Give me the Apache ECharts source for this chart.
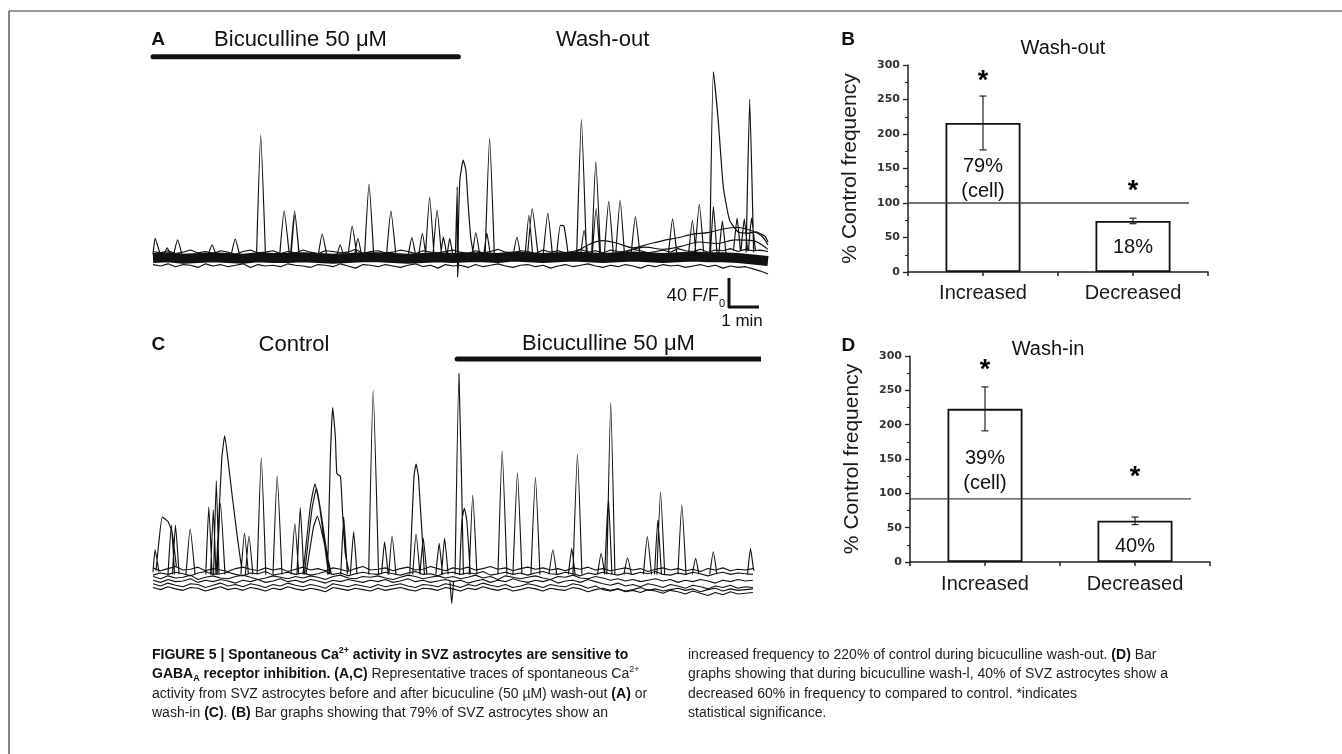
<!DOCTYPE html>
<html><head><meta charset="utf-8">
<script src="https://cdn.jsdelivr.net/npm/echarts@6/dist/echarts.min.js"></script>
<style>html,body{margin:0;padding:0;background:#fff}#c{width:1342px;height:754px}</style>
</head><body><div id="c"></div>
<script>
// ================= DATA =================
// Panel A (bicuculline wash-out): time in min, amplitude in F/F0
const aBandMid = [0,1,-1,0,1,0,-1,1,0,0, 1,0,-1,0,1,1,0,-1,0,1, 0,1,1,0,2,1,0,1,2,1, 0,1,2,1,0,1,2,1,1,0, -2,-4];
const aBandTop = [9,7,10,6,8,11,7,9,6,10, 8,5,9,11,7,8,10,6,9,7, 11,8,6,10,9,7,8,12,6,9, 10,7,8,11,9,6,10,8,7,9,
  11,8,6,10,7,9,12,8,7,10, 9,6,11,8,10,7,9,12,8,10, 7,11,9,8,12,10,7,9,11,8, 13,10,9,12,8,11,10,13,9,12, 10,11,9];
const aBandBot = [-9,-11,-8,-12,-9,-10,-13,-8,-11,-9, -12,-10,-8,-13,-9,-11,-10,-12,-8,-10, -11,-13,-9,-10,-12,-8,-11,-14,-9,-10,
  -12,-9,-11,-13,-10,-8,-12,-10,-14,-9, -11,-10,-13,-9,-12,-10,-8,-11,-13,-10, -9,-12,-10,-14,-11,-9,-12,-10,-8,-11,
  -13,-10,-12,-9,-11,-14,-10,-12,-9,-11, -10,-13,-11,-9,-12,-10,-14,-11,-13,-12, -15,-18,-22];
const spikesA = [
 [[0,5],[0.07,27],[0.25,3]], [[0.35,2],[0.47,14],[0.6,3]], [[0.68,3],[0.82,25],[0.98,2]],
 [[1.82,2],[1.97,18],[2.12,2]], [[2.6,3],[2.74,26],[2.9,2]], [[3.45,2],[3.59,170],[3.75,2]],
 [[4.22,2],[4.37,65],[4.55,2]], [[4.58,2],[4.72,65],[4.88,2]], [[4.6,3],[4.73,60],[4.87,4]],
 [[5.5,2],[5.64,33],[5.8,2]], [[6.12,2],[6.24,18],[6.36,2]], [[6.5,2],[6.64,44],[6.8,2]],
 [[6.72,3],[6.83,27],[6.96,2]], [[7.05,2],[7.2,102],[7.36,2]], [[7.78,2],[7.93,65],[8.1,2]],
 [[8.5,2],[8.63,28],[8.76,2]], [[8.85,2],[8.98,34],[9.1,2]], [[9.08,2],[9.22,84],[9.37,2]],
 [[9.33,2],[9.47,66],[9.62,2]], [[9.58,2],[9.68,29],[9.8,2]], [[9.8,2],[9.89,27],[10.0,2]],
 [[10.08,2],[10.14,98],[10.15,-26],[10.2,2]],
 [[10.17,5],[10.18,43],[10.23,108],[10.34,135],[10.43,121],[10.51,71],[10.59,29],[10.68,5]],
 [[10.64,2],[10.76,35],[10.9,2]], [[11.02,2],[11.13,34],[11.25,2]], [[11.07,2],[11.22,165],[11.38,2]],
 [[12.0,2],[12.13,29],[12.26,2]], [[12.4,2],[12.53,59],[12.66,2]], [[12.48,2],[12.64,68],[12.84,2]],
 [[13.0,2],[13.16,62],[13.32,2]], [[13.45,2],[13.58,45],[13.7,44],[13.85,2]],
 [[14.12,2],[14.28,191],[14.45,2]], [[14.25,2],[14.37,38],[14.5,2]], [[14.62,2],[14.76,133],[14.92,2]],
 [[14.64,3],[14.77,68],[14.9,3]], [[15.04,2],[15.19,78],[15.35,2]], [[15.42,2],[15.57,80],[15.72,2]],
 [[15.93,2],[16.08,57],[16.24,2]], [[17.18,5],[17.32,54],[17.46,5]], [[17.85,5],[17.98,52],[18.1,5]],
 [[18.06,5],[18.21,74],[18.36,5]],
 [[18.56,5],[18.68,257],[18.84,190],[19.01,98],[19.22,52],[19.5,36],[19.8,34],[20.1,36],[20.4,30],[20.5,22]],
 [[18.58,5],[18.68,71],[18.8,5]], [[18.86,5],[18.98,51],[19.1,5]], [[19.35,10],[19.47,55],[19.58,10]],
 [[19.6,10],[19.71,54],[19.82,10]], [[19.77,8],[19.89,219],[20.02,8]], [[19.85,10],[19.95,55],[20.08,10]]
];
const slowA1 = [[13.9,2],[14.5,18],[15,24],[15.5,20],[16,14],[16.5,19],[17,24],[17.5,28],[18,33],[18.5,35],[19,40],[19.5,42],[20,37],[20.3,30],[20.5,18]];
const slowA2 = [[15.2,3],[15.8,10],[16.4,15],[17,12],[17.6,16],[18.2,22],[18.8,20],[19.4,25],[20,24],[20.5,12]];
const drugA = [0, 10.18];          // bicuculline application (min)

// Panel C (bicuculline wash-in)
const cBase1 = [14,10,13,16,11,12,15,10,13,11, 9,13,15,12,10,14,11,13,9,12, 15,11,13,10,14,12,9,13,16,11, 12,14,10,13,15,11,12,16,13,10,
  14,12,15,11,13,16,12,14,10,13, 15,12,14,11,13,10,14,12,15,11, 13,10,12,14,11,13,9,12,14,11, 13,10,12,9,13,11,14,10,12,11, 13];
const cBase2 = [4,7,5,8,6,3,7,9,5,6, 8,5,3,7,6,9,4,6,8,5, 7,4,6,9,5,7,3,6,8,6, 5,8,6,4,7,9,5,6,3,7,
  8,5,7,6,9,4,6,8,5,7, 4,7,9,6,5,8,6,3,7,5, 8,6,4,7,5,8,6,9,5,4, 7,5,8,6,3,6,8,5,7,6, 5];
const cBase3 = [2,-1,3,0,1,4,-2,1,3,0, -1,2,4,1,-2,0,3,1,-1,2, 0,3,1,-2,2,4,0,-1,2,1, 3,0,-2,1,4,2,-1,1,3,0,
  2,-1,1,4,0,2,-2,3,1,-1, 1,3,0,-2,2,1,4,0,-1,2, 0,-3,-1,-4,-2,-5,-3,-1,-4,-2, -6,-3,-5,-2,-4,-7,-3,-5,-2,-4, -3];
const cBase4 = [-3,-6,-2,-5,-4,-1,-6,-3,-5,-2, -4,-7,-3,-5,-2,-6,-4,-1,-5,-3, -6,-2,-4,-7,-3,-5,-2,-4,-6,-3, -5,-2,-6,-4,-1,-5,-3,-6,-4,-2,
  -5,-3,-7,-4,-2,-6,-3,-5,-1,-4, -6,-3,-5,-2,-7,-4,-3,-6,-2,-5, -8,-10,-7,-11,-9,-12,-8,-10,-13,-9, -11,-14,-10,-12,-15,-11,-13,-10,-14,-12, -13];
const cBase5 = [-8,-11,-7,-10,-12,-8,-9,-13,-10,-7, -11,-9,-12,-8,-10,-13,-9,-11,-7,-10, -12,-9,-11,-14,-8,-10,-12,-9,-11,-13, -9,-12,-10,-8,-11,-13,-9,-10,-12,-8,
  -10,-13,-9,-11,-7,-10,-12,-9,-13,-11, -8,-10,-13,-9,-11,-12,-8,-10,-14,-11, -16,-18,-15,-19,-17,-20,-16,-18,-21,-17, -19,-22,-18,-21,-24,-20,-23,-19,-22,-21, -20];
const cBase6 = [-13,-16,-12,-15,-17,-13,-14,-18,-15,-12, -16,-14,-17,-13,-15,-18,-14,-16,-12,-15, -17,-14,-16,-19,-13,-15,-17,-14,-16,-18, -14,-17,-15,-13,-16,-18,-14,-15,-17,-13,
  -15,-18,-14,-16,-12,-15,-17,-14,-18,-16, -13,-15,-18,-14,-16,-17,-13,-15,-19,-16, -14,-17,-15,-18,-16,-13,-17,-15,-18,-16, -14,-17,-15,-19,-16,-14,-18,-15,-17,-16, -15];
const spikesC = [
 [[0,8],[0.07,39],[0.2,8]], [[0.1,10],[0.16,35],[0.31,84],[0.5,78],[0.64,62],[0.78,16]],
 [[0.5,5],[0.61,73],[0.72,5]], [[0.65,5],[0.75,73],[0.87,5]], [[1.1,5],[1.24,68],[1.4,5]],
 [[1.76,5],[1.86,98],[1.97,5]], [[1.92,5],[2.01,94],[2.1,5]], [[2.02,5],[2.11,134],[2.2,5]],
 [[2.14,5],[2.25,103],[2.4,5]], [[2.11,8],[2.29,163],[2.39,196],[2.5,163],[2.63,117],[2.81,57],[2.95,15]],
 [[2.93,5],[3.05,62],[3.18,5]], [[3.08,5],[3.2,58],[3.33,5]], [[3.47,5],[3.61,166],[3.76,5]],
 [[4.0,5],[4.14,141],[4.3,5]], [[4.6,5],[4.73,75],[4.86,5]], [[4.8,5],[4.91,97],[5.03,5]],
 [[5.0,5],[5.25,100],[5.4,130],[5.55,100],[5.85,5]], [[5.05,5],[5.3,95],[5.45,124],[5.6,90],[5.9,5]],
 [[5.1,5],[5.35,70],[5.48,85],[5.7,50],[5.95,5]],
 [[5.82,5],[5.91,163],[5.99,235],[6.08,195],[6.13,144],[6.25,140],[6.32,89],[6.41,34],[6.53,10]],
 [[6.26,5],[6.36,84],[6.48,5]], [[6.58,5],[6.69,64],[6.8,5]], [[7.19,5],[7.34,259],[7.52,5]],
 [[7.62,5],[7.72,50],[7.84,5]], [[7.86,5],[7.97,58],[8.1,5]], [[8.56,5],[8.7,140],[8.77,157],[8.85,140],[9.05,5]],
 [[8.66,5],[8.77,61],[8.9,5]], [[8.9,5],[9.01,55],[9.13,5]], [[9.43,5],[9.54,48],[9.65,5]],
 [[9.62,5],[9.72,55],[9.84,5]], [[9.9,-5],[9.96,-35],[10.02,-5]], [[10.07,5],[10.2,282],[10.35,5]],
 [[10.22,5],[10.3,80],[10.38,96],[10.46,80],[10.58,5]], [[10.54,5],[10.66,114],[10.8,5]],
 [[11.5,5],[11.64,175],[11.8,5]], [[12.0,5],[12.15,145],[12.3,5]], [[12.6,5],[12.75,139],[12.9,5]],
 [[13.2,5],[13.33,39],[13.46,5]], [[13.85,5],[13.96,41],[14.07,5]], [[14.0,5],[14.15,171],[14.3,5]],
 [[14.82,5],[14.94,34],[15.06,5]], [[15.06,5],[15.18,112],[15.3,5]], [[15.13,5],[15.26,242],[15.4,5]],
 [[15.7,5],[15.82,28],[15.95,5]], [[16.35,5],[16.48,57],[16.62,5]], [[16.72,5],[16.83,80],[16.95,5]],
 [[16.8,5],[16.92,119],[17.06,5]], [[17.5,5],[17.63,101],[17.77,5]], [[17.98,5],[18.09,27],[18.2,5]],
 [[18.56,5],[18.68,36],[18.8,5]], [[19.82,5],[19.92,41],[20.02,12],[20.05,10]]
];
const drugC = [10.14, 20.27];
const scaleAmp = 40, scaleDur = 1;   // 40 F/F0, 1 min

// Panels B / D
const categories = ['Increased', 'Decreased'];
const washOutMean = [216, 74];
const washOutErr  = [39, 4];
const washOutRef  = 100;
const washOutPct  = ['79%\n(cell)', '18%'];
const washInMean  = [223, 60];
const washInErr   = [32, 5.5];
const washInRef   = 92;
const washInPct   = ['39%\n(cell)', '40%'];
const yTicks = [0, 300, 50];   // min, max, step

// ================= LAYOUT / STYLE =================
const FONT = 'Liberation Sans';
const INK = '#111';
const pctAtB = [135.5, 35], pctAtD = [133, 23];
const starAtB = [285, 126], starAtD = [288, 132];

function lineData(arr, step) { return arr.map((v, i) => [+(i * step).toFixed(3), v]); }
function spikeData(list) {
  const out = [];
  list.forEach((s, k) => { if (k) out.push(['-', '-']); s.forEach(p => out.push(p)); });
  return out;
}
function trace(ix, data, w, extra) {
  return Object.assign({ type: 'line', xAxisIndex: ix, yAxisIndex: ix, data: data, symbol: 'none',
    silent: true, animation: false, lineStyle: { color: INK, width: w, join: 'round' } }, extra || {});
}
function errRender(params, api) {
  const x = api.value(0), lo = api.value(1), hi = api.value(2);
  const a = api.coord([x, hi]), b = api.coord([x, lo]);
  const cap = 3.5, st = { stroke: '#222', lineWidth: 1.2 };
  return { type: 'group', children: [
    { type: 'line', shape: { x1: a[0], y1: a[1], x2: b[0], y2: b[1] }, style: st },
    { type: 'line', shape: { x1: a[0] - cap, y1: a[1], x2: a[0] + cap, y2: a[1] }, style: st },
    { type: 'line', shape: { x1: b[0] - cap, y1: b[1], x2: b[0] + cap, y2: b[1] }, style: st }
  ] };
}
const hiddenSym = { color: 'rgba(0,0,0,0)', opacity: 1 };
function barSeries(ix, mean, err, ref, pct, pctAt, starAt) {
  return [
    { type: 'bar', xAxisIndex: ix, yAxisIndex: ix, barWidth: 75, silent: true, z: 2,
      data: mean.map((m, i) => [i + 0.5, m]),
      itemStyle: { color: '#fff', borderColor: INK, borderWidth: 1.8 } },
    { type: 'custom', xAxisIndex: ix, yAxisIndex: ix, renderItem: errRender, silent: true, z: 3,
      encode: { x: 0, y: [1, 2] },
      data: mean.map((m, i) => [i + 0.5, m - err[i], m + err[i]]) },
    trace(ix, [[0, ref], [1.873, ref]], 1.3, { z: 4, lineStyle: { color: '#444', width: 1.3 } }),
    { type: 'scatter', xAxisIndex: ix, yAxisIndex: ix, symbolSize: 1, silent: true, z: 5,
      itemStyle: hiddenSym,
      data: mean.map((m, i) => [i + 0.5, starAt[i]]),
      label: { show: true, position: 'inside', formatter: '*', fontSize: 27, fontWeight: 'bold', fontFamily: FONT,
        color: '#000', opacity: 1, textBorderWidth: 0, offset: [0, 6] } },
    { type: 'scatter', xAxisIndex: ix, yAxisIndex: ix, symbolSize: 1, silent: true, z: 5,
      itemStyle: hiddenSym,
      data: pct.map((p, i) => ({ value: [i + 0.5, pctAt[i]], name: p })),
      label: { show: true, position: 'inside', formatter: '{b}', fontSize: 20, lineHeight: 25, fontFamily: FONT,
        color: '#111', opacity: 1, textBorderWidth: 0 } }
  ];
}
function hiddenAxes(g, xmax, ymin, ymax) {
  return [{ gridIndex: g, type: 'value', min: 0, max: xmax, show: false },
          { gridIndex: g, type: 'value', min: ymin, max: ymax, show: false }];
}
const axisCol = '#222';
function barXAxis(g, margin) {
  return { gridIndex: g, type: 'value', min: 0, max: categories.length, interval: 0.5,
    axisLine: { show: true, lineStyle: { color: axisCol, width: 1.5 } },
    axisTick: { show: true, length: 4, lineStyle: { color: axisCol, width: 1.5 } },
    splitLine: { show: false },
    axisLabel: { margin: margin, fontSize: 20, fontFamily: FONT, color: '#1a1a1a',
      formatter: v => { const i = v - 0.5; return Number.isInteger(i) && categories[i] ? categories[i] : ''; } } };
}
function barYAxis(g) {
  return { gridIndex: g, type: 'value', min: yTicks[0], max: yTicks[1], interval: yTicks[2],
    axisLine: { show: true, lineStyle: { color: axisCol, width: 1.5 } },
    axisTick: { show: true, length: 5, lineStyle: { color: axisCol, width: 1.3 } },
    minorTick: { show: true, splitNumber: 2, length: 3, lineStyle: { color: axisCol, width: 1.1 } },
    splitLine: { show: false },
    axisLabel: { margin: 8, fontSize: 11, fontWeight: 'bold', fontFamily: 'DejaVu Sans', color: '#333' },
    name: '% Control frequency', nameLocation: 'middle', nameGap: 47,
    nameTextStyle: { fontSize: 21, fontFamily: FONT, color: '#1a1a1a' } };
}
function txt(x, y, text, size, extra) {
  return { type: 'text', x: x, y: y, silent: true,
    style: Object.assign({ text: text, fontSize: size, fontFamily: FONT, fill: INK, align: 'center', verticalAlign: 'middle' }, extra || {}) };
}

const capRich = {
  b: { fontWeight: 'bold', fontSize: 14, fontFamily: FONT, fill: INK, lineHeight: 18 },
  sup: { fontSize: 9, fontFamily: FONT, fill: '#222', lineHeight: 10, verticalAlign: 'top' },
  bsup: { fontSize: 9, fontWeight: 'bold', fontFamily: FONT, fill: INK, lineHeight: 10, verticalAlign: 'top' },
  bsub: { fontSize: 9, fontWeight: 'bold', fontFamily: FONT, fill: INK, lineHeight: 10, verticalAlign: 'bottom' }
};
const captionLeft = [
  '{b|FIGURE 5 | Spontaneous Ca}{bsup|2+}{b| activity in SVZ astrocytes are sensitive to}',
  '{b|GABA}{bsub|A}{b| receptor inhibition. (A,C)} Representative traces of spontaneous Ca{sup|2+}',
  'activity from SVZ astrocytes before and after bicuculine (50 µM) wash-out {b|(A)} or',
  'wash-in {b|(C)}. {b|(B)} Bar graphs showing that 79% of SVZ astrocytes show an'
];
const captionRight = [
  'increased frequency to 220% of control during bicuculline wash-out. {b|(D)} Bar',
  'graphs showing that during bicuculline wash-l, 40% of SVZ astrocytes show a',
  'decreased 60% in frequency to compared to control. *indicates',
  'statistical significance.'
];
function capLine(x, y, t) {
  return { type: 'text', x: x, y: y, silent: true,
    style: { text: t, fontSize: 14, fontFamily: FONT, fill: '#222', lineHeight: 18, align: 'left', verticalAlign: 'middle', rich: capRich } };
}

const graphics = [
  { type: 'line', silent: true, shape: { x1: 9, y1: 11, x2: 1342, y2: 11 }, style: { stroke: '#333', lineWidth: 1.2 } },
  { type: 'line', silent: true, shape: { x1: 9, y1: 11, x2: 9, y2: 754 }, style: { stroke: '#333', lineWidth: 1.2 } },
  txt(158, 40, 'A', 19, { fontWeight: 'bold' }),
  txt(300.5, 39.5, 'Bicuculline 50 μM', 22),
  txt(602.6, 39.5, 'Wash-out', 22),
  txt(158.4, 345, 'C', 19, { fontWeight: 'bold' }),
  txt(294, 345, 'Control', 22),
  txt(608.5, 344, 'Bicuculline 50 μM', 22),
  txt(848, 40, 'B', 19, { fontWeight: 'bold' }),
  txt(1063, 48, 'Wash-out', 20),
  txt(848.4, 346, 'D', 19, { fontWeight: 'bold' }),
  txt(1048, 349.3, 'Wash-in', 20),
  txt(725, 296, '40 F/F{s|0}', 18, { align: 'right', lineHeight: 26,
    rich: { s: { fontSize: 11, fontFamily: FONT, fill: INK, lineHeight: 12, verticalAlign: 'bottom' } } }),
  txt(742, 321.7, '1 min', 17)
];
captionLeft.forEach((t, i) => graphics.push(capLine(152, 655 + i * 19.5, t)));
captionRight.forEach((t, i) => graphics.push(capLine(688, 655 + i * 19.5, t)));

const A_MAX_T = 20.5, C_MAX_T = 20.17;
const option = {
  animation: false,
  backgroundColor: '#fff',
  textStyle: { fontFamily: FONT },
  grid: [
    { left: 153, top: 60, width: 615, height: 250 },
    { left: 153, top: 365, width: 605, height: 245 },
    { left: 908, top: 65, width: 300, height: 207 },
    { left: 910, top: 356, width: 300, height: 206 }
  ],
  xAxis: [hiddenAxes(0, A_MAX_T, -71.7, 273.1)[0], hiddenAxes(1, C_MAX_T, -44.1, 293.8)[0], barXAxis(2, 11), barXAxis(3, 12)],
  yAxis: [hiddenAxes(0, A_MAX_T, -71.7, 273.1)[1], hiddenAxes(1, C_MAX_T, -44.1, 293.8)[1], barYAxis(2), barYAxis(3)],
  graphic: graphics,
  series: [
    // Panel A
    trace(0, lineData(aBandMid, 0.5), 10),
    trace(0, lineData(aBandTop, 0.25), 1.2),
    trace(0, lineData(aBandBot, 0.25), 1.2),
    trace(0, slowA1, 1.1, { smooth: 0.3 }),
    trace(0, slowA2, 1.1, { smooth: 0.3 }),
    trace(0, spikeData(spikesA), 1.2, { smooth: 0.15 }),
    trace(0, [[19.2, -67.6 + scaleAmp], [19.2, -67.6], [19.2 + scaleDur, -67.6]], 3, { clip: false }),
    trace(0, [[drugA[0], 277.7], [drugA[1], 277.7]], 5, { clip: false, lineStyle: { color: INK, width: 5, cap: 'round' } }),
    // Panel C
    trace(1, lineData(cBase1, 0.25), 1.1),
    trace(1, lineData(cBase2, 0.25), 1.1),
    trace(1, lineData(cBase3, 0.25), 1.1),
    trace(1, lineData(cBase4, 0.25), 1.1),
    trace(1, lineData(cBase5, 0.25), 1.1),
    trace(1, lineData(cBase6, 0.25), 1.1),
    trace(1, spikeData(spikesC), 1.15, { smooth: 0.15 }),
    trace(1, [[drugC[0], 302], [drugC[1], 302]], 5, { clip: false, lineStyle: { color: INK, width: 5, cap: 'round' } })
  ].concat(
    barSeries(2, washOutMean, washOutErr, washOutRef, washOutPct, pctAtB, starAtB),
    barSeries(3, washInMean, washInErr, washInRef, washInPct, pctAtD, starAtD)
  )
};
const chart = echarts.init(document.getElementById('c'), null, { renderer: 'canvas' });
chart.setOption(option);
</script>
</body></html>
